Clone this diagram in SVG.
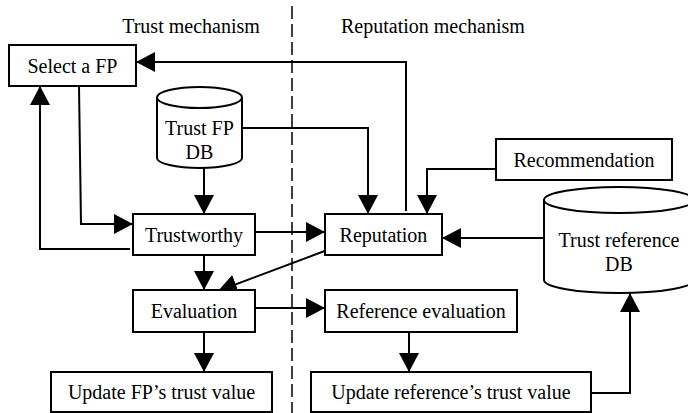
<svg xmlns="http://www.w3.org/2000/svg" width="688" height="413" viewBox="0 0 688 413">
<style>
  .box { fill: #fff; stroke: #000; stroke-width: 2; }
  .cyl { fill: #fff; stroke: #000; stroke-width: 2; }
  .arr { fill: none; stroke: #000; stroke-width: 2; marker-end: url(#ah); }
  .dash { fill: none; stroke: #000; stroke-width: 1.5; stroke-dasharray: 13 5; }
</style>
<defs>
  <marker id="ah" markerUnits="userSpaceOnUse" markerWidth="19" markerHeight="20" refX="19" refY="10" orient="auto">
    <path d="M0,0 L19,10 L0,20 z" fill="#000"/>
  </marker>
</defs>
<rect width="688" height="413" fill="#fff"/>
<line class="dash" x1="292" y1="6" x2="292" y2="413"/>
<text x="191" y="33" font-family="Liberation Serif" font-size="20" text-anchor="middle">Trust mechanism</text>
<text x="341" y="33" font-family="Liberation Serif" font-size="20">Reputation mechanism</text>

<g id="connectors">
  <path class="arr" d="M406,211 V62 H136"/>
  <path class="arr" d="M242,128 H368 V214"/>
  <path class="arr" d="M496,169 H427 V214"/>
  <path class="arr" d="M544,238 H442"/>
  <path class="arr" d="M204,168 V214"/>
  <path class="arr" d="M79,86 L81,224 H133"/>
  <path class="arr" d="M130,249 H40 V86"/>
  <path class="arr" d="M255,232 H325"/>
  <path class="arr" d="M204,255 V290"/>
  <path class="arr" d="M330,249 L218,291"/>
  <path class="arr" d="M255,308 H325"/>
  <path class="arr" d="M204,332 V372"/>
  <path class="arr" d="M409,332 V372"/>
  <path class="arr" d="M591,393 H630 V293"/>
</g>

<g id="select-fp">
  <rect class="box" x="9" y="45" width="127" height="41"/>
  <text x="72.5" y="73" font-family="Liberation Serif" font-size="20" text-anchor="middle">Select a FP</text>
</g>
<g id="trust-fp-db">
  <path class="cyl" d="M157,97.5 V158 A42.5,10 0 0 0 242,158 V97.5"/>
  <ellipse class="cyl" cx="199.5" cy="97.5" rx="42.5" ry="10.5"/>
  <text x="199.5" y="135" font-family="Liberation Serif" font-size="20" text-anchor="middle">Trust FP</text>
  <text x="199.5" y="159" font-family="Liberation Serif" font-size="20" text-anchor="middle">DB</text>
</g>
<g id="trustworthy">
  <rect class="box" x="133" y="214" width="122" height="41"/>
  <text x="194" y="241.5" font-family="Liberation Serif" font-size="20" text-anchor="middle">Trustworthy</text>
</g>
<g id="evaluation">
  <rect class="box" x="133" y="290" width="122" height="42"/>
  <text x="194" y="318" font-family="Liberation Serif" font-size="20" text-anchor="middle">Evaluation</text>
</g>
<g id="update-fp">
  <rect class="box" x="51" y="372" width="221" height="40"/>
  <text x="161.5" y="399" font-family="Liberation Serif" font-size="20" text-anchor="middle">Update FP’s trust value</text>
</g>
<g id="reputation">
  <rect class="box" x="325" y="214" width="117" height="41"/>
  <text x="383.5" y="241.5" font-family="Liberation Serif" font-size="20" text-anchor="middle">Reputation</text>
</g>
<g id="recommendation">
  <rect class="box" x="496" y="139" width="176" height="41"/>
  <text x="584" y="167" font-family="Liberation Serif" font-size="20" text-anchor="middle">Recommendation</text>
</g>
<g id="trust-ref-db">
  <path class="cyl" d="M544,200 V280 A75,13 0 0 0 694,280 V200"/>
  <ellipse class="cyl" cx="619" cy="200" rx="75" ry="13"/>
  <text x="619" y="247" font-family="Liberation Serif" font-size="20" text-anchor="middle">Trust reference</text>
  <text x="619" y="271" font-family="Liberation Serif" font-size="20" text-anchor="middle">DB</text>
</g>
<g id="reference-evaluation">
  <rect class="box" x="325" y="290" width="192" height="42"/>
  <text x="421" y="318" font-family="Liberation Serif" font-size="20" text-anchor="middle">Reference evaluation</text>
</g>
<g id="update-reference">
  <rect class="box" x="311" y="372" width="280" height="40"/>
  <text x="451" y="399" font-family="Liberation Serif" font-size="20" text-anchor="middle">Update reference’s trust value</text>
</g>
</svg>
